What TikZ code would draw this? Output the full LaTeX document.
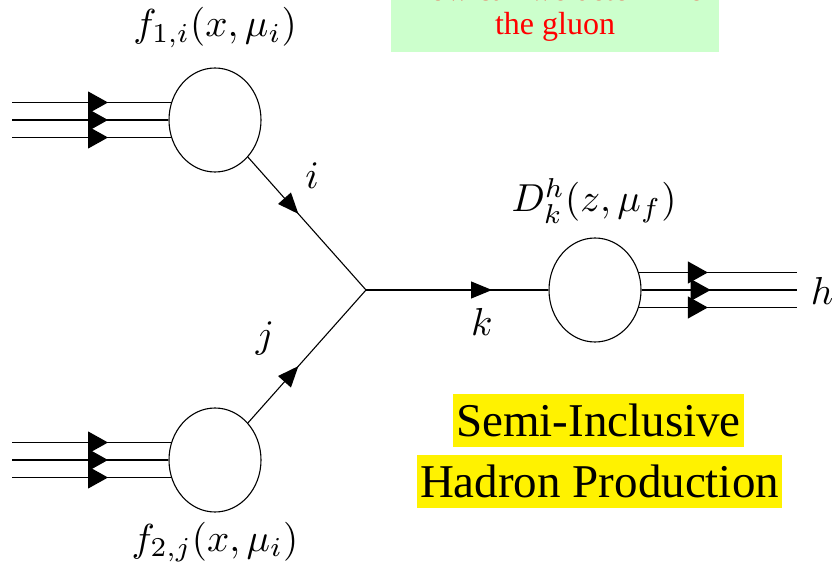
\documentclass[tikz,border=0pt]{standalone}
\usepackage{fontspec}
\newfontfamily\tnr{Liberation Serif}
\usetikzlibrary{arrows.meta,decorations.markings,shapes.geometric}
\definecolor{qgreen}{RGB}{204,255,204}
\begin{document}
\begin{tikzpicture}[x=1pt,y=1pt,
  blob/.style={draw, ellipse, line width=1.1pt, minimum width=92pt, minimum height=104pt, inner sep=0pt},
  ln/.style={line width=1.1pt},
  tri/.style={decoration={markings, mark=at position #1 with {\arrow{Triangle[length=20pt,width=22pt]}}}, postaction={decorate}},
  mid/.style={decoration={markings, mark=at position #1 with {\arrow{Triangle[length=21pt,width=17pt]}}}, postaction={decorate}},
  lab/.style={scale=3.9, inner sep=0pt, anchor=base},
  hl/.style={fill=yellow, font=\tnr\fontsize{47}{50}\selectfont, inner xsep=3pt, inner ysep=0pt, text height=42pt, text depth=11pt},
  qtext/.style={text=red, font=\tnr\fontsize{32}{34}\selectfont, inner sep=0pt, anchor=base}
]
\useasboundingbox (0,0) rectangle (835,579);

% question box
\fill[qgreen] (391,527) rectangle (719,600);
\node[qtext] (q1) at (555,578) {How can we determine};
\node[qtext] (q2) at (555,544) {the gluon};

% blobs
\node[blob] (c1) at (215,459) {};
\node[blob] (c2) at (215,119) {};
\node[blob] (c3) at (595,289) {};
\coordinate (v) at (366,289);

% incoming hadron lines (top)
\coordinate (a1) at (12,476.5);
\coordinate (a2) at (12,459);
\coordinate (a3) at (12,441.5);
\draw[ln, tri=96pt] (a1) -- (a1 -| c1.158);
\draw[ln, tri=96pt] (a2) -- (c1.west);
\draw[ln, tri=96pt] (a3) -- (a3 -| c1.202);

% incoming hadron lines (bottom)
\coordinate (b1) at (12,136.5);
\coordinate (b2) at (12,119);
\coordinate (b3) at (12,101.5);
\draw[ln, tri=96pt] (b1) -- (b1 -| c2.158);
\draw[ln, tri=96pt] (b2) -- (c2.west);
\draw[ln, tri=96pt] (b3) -- (b3 -| c2.202);

% outgoing hadron lines
\coordinate (h1) at (797,306.5);
\coordinate (h2) at (797,289);
\coordinate (h3) at (797,271.5);
\draw[ln, tri=69pt] (h1 -| c3.22) -- (h1);
\draw[ln, tri=69pt] (c3.east) -- (h2);
\draw[ln, tri=69pt] (h3 -| c3.-22) -- (h3);

% partons
\draw[ln, mid=76pt] (c1) -- (v);
\draw[ln, mid=76pt] (c2) -- (v);
\draw[ln, mid=126pt] (v) -- (c3);

% labels
\node[lab] (lf1) at (215,542) {$f_{1,i}(x,\mu_i)$};
\node[lab] (lf2) at (215,28) {$f_{2,j}(x,\mu_i)$};
\node[lab] (lD) at (594,367) {$D^h_k(z,\mu_f)$};
\node[lab] (li) at (312,390) {$i$};
\node[lab] (lj) at (265,232) {$j$};
\node[lab] (lk) at (482,244) {$k$};
\node[lab] (lh) at (822,274) {$h$};

% highlighted title
\node[hl] (t1) at (598.5,158.5) {Semi-Inclusive\ };
\node[hl] (t2) at (599.5,97.5) {Hadron Production};
\end{tikzpicture}
\end{document}
